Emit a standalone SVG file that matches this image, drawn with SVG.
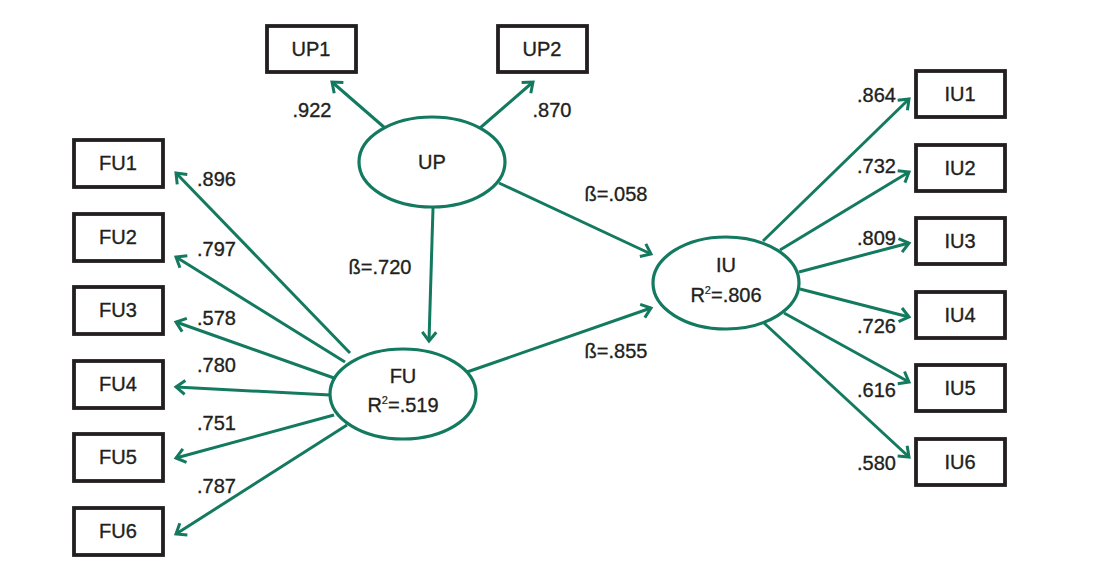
<svg xmlns="http://www.w3.org/2000/svg" width="1119" height="575" viewBox="0 0 1119 575">
<style>
.box{fill:#fff;stroke:#231f20;stroke-width:3.8}
.lat{fill:#fff;stroke:#137a5f;stroke-width:3.2}
.con{stroke:#137a5f;stroke-width:3;fill:none}
text{font-family:"Liberation Sans",Arial,sans-serif;font-size:20px;fill:#231f20;stroke:#231f20;stroke-width:0.35}
.c{text-anchor:middle}
.r{text-anchor:end}
</style>
<defs>
<marker id="ah" markerUnits="userSpaceOnUse" viewBox="-12 -9 15 18" markerWidth="15" markerHeight="18" refX="0" refY="0" orient="auto">
<path d="M-9,-7 L0,0 L-9,7" fill="none" stroke="#137a5f" stroke-width="3"/>
</marker>
</defs>
<rect width="1119" height="575" fill="#fff"/>
<g id="connectors" class="con" marker-end="url(#ah)">
<line x1="385" y1="128" x2="332" y2="82"/>
<line x1="480" y1="128" x2="533" y2="82"/>
<line x1="433" y1="208" x2="429" y2="341"/>
<line x1="499" y1="183" x2="651" y2="254"/>
<line x1="467" y1="372" x2="651" y2="308"/>
<line x1="350" y1="353" x2="176" y2="173"/>
<line x1="345" y1="362" x2="176" y2="257"/>
<line x1="334" y1="378" x2="176" y2="322"/>
<line x1="330" y1="395" x2="176" y2="387"/>
<line x1="334" y1="415" x2="176" y2="458"/>
<line x1="347" y1="425" x2="176" y2="534"/>
<line x1="763" y1="241" x2="909" y2="99"/>
<line x1="780" y1="250" x2="909" y2="172"/>
<line x1="799" y1="272" x2="909" y2="243"/>
<line x1="800" y1="289" x2="909" y2="317"/>
<line x1="784" y1="313" x2="909" y2="382"/>
<line x1="764" y1="323" x2="909" y2="457"/>
</g>
<g id="labels">
<text class="c" x="312" y="117">.922</text>
<text class="c" x="552" y="117">.870</text>
<text class="c" x="380" y="274">ß=.720</text>
<text class="c" x="616" y="201">ß=.058</text>
<text class="c" x="616" y="358">ß=.855</text>
<text x="197" y="186">.896</text>
<text x="197" y="256">.797</text>
<text x="197" y="325">.578</text>
<text x="197" y="372">.780</text>
<text x="197" y="430">.751</text>
<text x="197" y="493">.787</text>
<text class="r" x="896" y="102">.864</text>
<text class="r" x="896" y="173">.732</text>
<text class="r" x="896" y="245">.809</text>
<text class="r" x="896" y="333">.726</text>
<text class="r" x="896" y="397">.616</text>
<text class="r" x="896" y="470">.580</text>
</g>
<g id="UP"><ellipse class="lat" cx="432" cy="162" rx="73" ry="45"/><text class="c" x="432" y="169">UP</text></g>
<g id="FU"><ellipse class="lat" cx="403" cy="394" rx="73" ry="45"/><text class="c" x="403" y="383">FU</text><text class="c" x="403" y="412">R<tspan dy="-8" font-size="11" stroke-width="0.2">2</tspan><tspan dy="8">=.519</tspan></text></g>
<g id="IU"><ellipse class="lat" cx="726" cy="283" rx="73" ry="46"/><text class="c" x="726" y="272">IU</text><text class="c" x="726" y="302">R<tspan dy="-8" font-size="11" stroke-width="0.2">2</tspan><tspan dy="8">=.806</tspan></text></g>
<g id="UP1"><rect class="box" x="267" y="26" width="89" height="46"/><text class="c" x="311" y="56">UP1</text></g>
<g id="UP2"><rect class="box" x="498" y="26" width="89" height="46"/><text class="c" x="542" y="56">UP2</text></g>
<g id="FU1"><rect class="box" x="74" y="140" width="89" height="47"/><text class="c" x="118" y="170">FU1</text></g>
<g id="FU2"><rect class="box" x="74" y="214" width="89" height="47"/><text class="c" x="118" y="244">FU2</text></g>
<g id="FU3"><rect class="box" x="74" y="287" width="89" height="47"/><text class="c" x="118" y="317">FU3</text></g>
<g id="FU4"><rect class="box" x="74" y="361" width="89" height="47"/><text class="c" x="118" y="391">FU4</text></g>
<g id="FU5"><rect class="box" x="74" y="434" width="89" height="47"/><text class="c" x="118" y="464">FU5</text></g>
<g id="FU6"><rect class="box" x="74" y="508" width="89" height="47"/><text class="c" x="118" y="538">FU6</text></g>
<g id="IU1"><rect class="box" x="916" y="71" width="89" height="46"/><text class="c" x="960" y="101">IU1</text></g>
<g id="IU2"><rect class="box" x="916" y="145" width="89" height="46"/><text class="c" x="960" y="175">IU2</text></g>
<g id="IU3"><rect class="box" x="916" y="218" width="89" height="46"/><text class="c" x="960" y="248">IU3</text></g>
<g id="IU4"><rect class="box" x="916" y="292" width="89" height="46"/><text class="c" x="960" y="322">IU4</text></g>
<g id="IU5"><rect class="box" x="916" y="365" width="89" height="46"/><text class="c" x="960" y="395">IU5</text></g>
<g id="IU6"><rect class="box" x="916" y="439" width="89" height="46"/><text class="c" x="960" y="469">IU6</text></g>
</svg>
